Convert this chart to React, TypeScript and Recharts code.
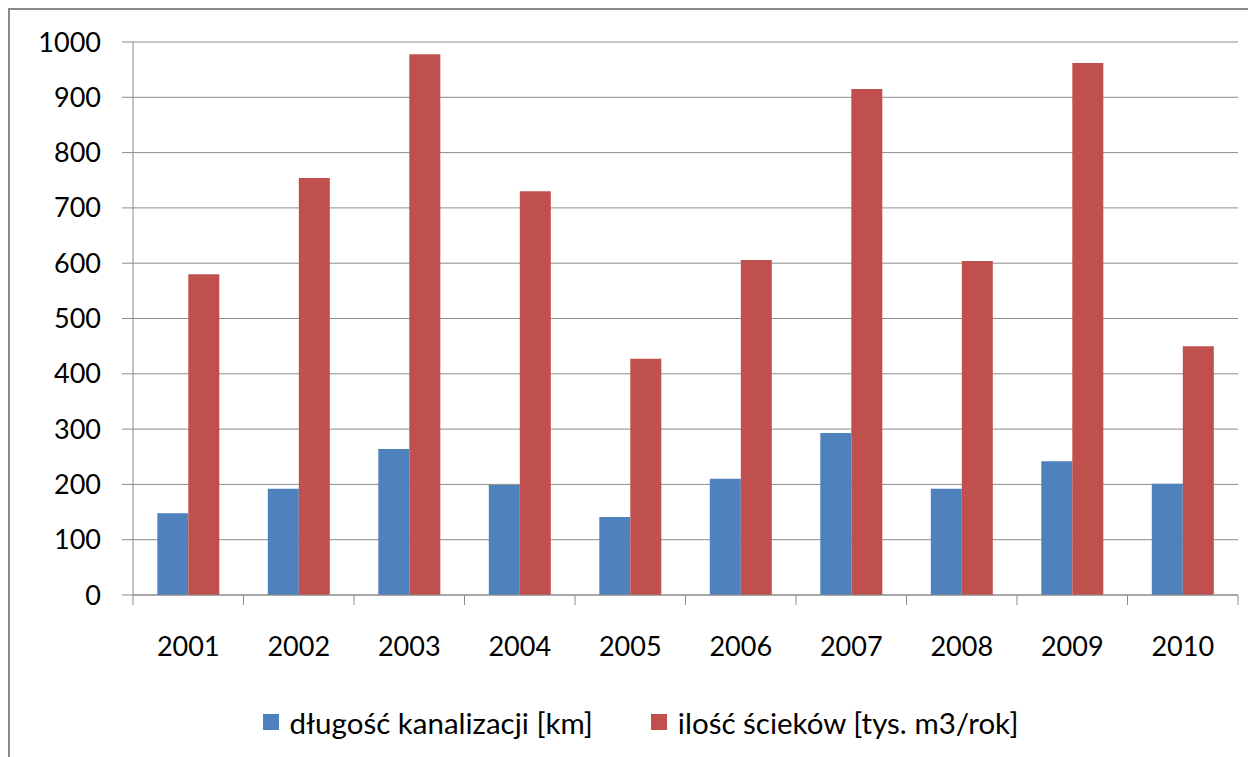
import React from 'react';
import { BarChart, Bar, XAxis, YAxis, CartesianGrid, Legend } from 'recharts';

const years = ['2001', '2002', '2003', '2004', '2005', '2006', '2007', '2008', '2009', '2010'];
const sewerLength = [148, 192, 264, 199, 141, 210, 293, 192, 242, 201];
const sewageVolume = [580, 754, 978, 730, 427, 606, 915, 604, 962, 450];
const yTicks = [0, 100, 200, 300, 400, 500, 600, 700, 800, 900, 1000];

const series = [
  { key: 'len', name: 'długość kanalizacji [km]', color: '#4F81BD' },
  { key: 'vol', name: 'ilość ścieków [tys. m3/rok]', color: '#C0504D' },
];

const data = years.map((year, i) => ({ year, len: sewerLength[i], vol: sewageVolume[i] }));

const font = 'Lato, "Open Sans", sans-serif';
const gray = '#8c8c8c';

// Excel-style category axis: tick marks sit between categories, not under them
const YearTick = (props: any) => {
  const { x, y, payload, index } = props;
  const half = payload?.offset ?? 0;
  const top = y - 42;
  return (
    <g>
      <line x1={x - half} x2={x - half} y1={top} y2={top + 10} stroke={gray} />
      {index === years.length - 1 && (
        <line x1={x + half} x2={x + half} y1={top} y2={top + 10} stroke={gray} />
      )}
      <text x={x} y={y + 19} textAnchor="middle" fill="#000" fontSize={27} fontFamily={font}>
        {payload.value}
      </text>
    </g>
  );
};

const LegendContent: React.FC = () => (
  <div style={{ display: 'flex', justifyContent: 'center', height: 30, alignItems: 'center', fontFamily: font, fontSize: 29.5, color: '#000' }}>
    {series.map((s, i) => (
      <div key={s.key} style={{ display: 'flex', alignItems: 'center', marginLeft: i ? 58 : 0 }}>
        <span style={{ width: 16, height: 16, background: s.color, display: 'inline-block', marginRight: 11 }} />
        <span>{s.name}</span>
      </div>
    ))}
  </div>
);

const App: React.FC = () => {
  return (
    <div style={{ width: 1246, height: 749, borderLeft: '2px solid #8a8a8a', borderTop: '2px solid #8a8a8a', background: '#fff' }}>
      <BarChart
        width={1246}
        height={749}
        data={data}
        margin={{ top: 32, right: 18, left: 33, bottom: 22 }}
        barCategoryGap="22%"
        barGap={0}
      >
        <CartesianGrid vertical={false} stroke={gray} />
        <XAxis
          dataKey="year"
          height={112}
          interval={0}
          stroke={gray}
          tickLine={false}
          tickSize={10}
          tickMargin={32}
          tick={<YearTick />}
        />
        <YAxis
          domain={[0, 1000]}
          ticks={yTicks}
          width={90}
          tickSize={11}
          tickMargin={21}
          stroke={gray}
          tick={{ fill: '#000', fontSize: 27, fontFamily: font }}
          interval={0}
        />
        <Legend verticalAlign="bottom" align="center" content={<LegendContent />} />
        {series.map((s) => (
          <Bar key={s.key} dataKey={s.key} name={s.name} fill={s.color} isAnimationActive={false} />
        ))}
      </BarChart>
    </div>
  );
};

export default App;
